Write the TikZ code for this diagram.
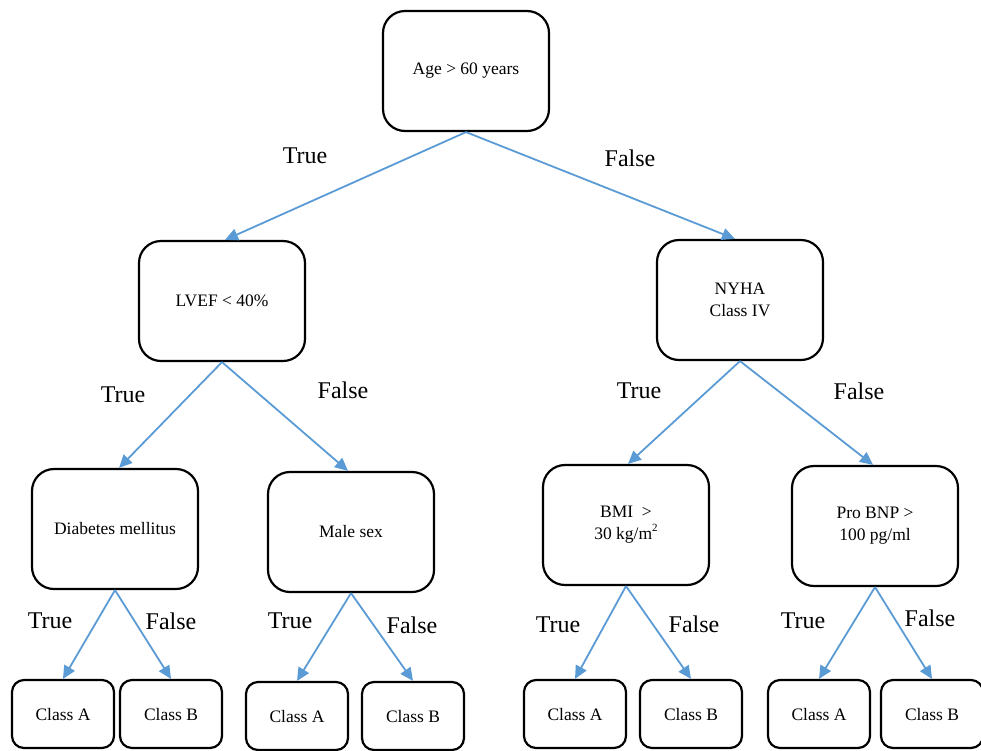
\documentclass[tikz,border=0pt]{standalone}
\usepackage{fontspec}
\setmainfont{Liberation Serif}
\usetikzlibrary{arrows.meta}
\definecolor{edgeblue}{RGB}{91,155,213}
\tikzset{
  box/.style={draw=black, line width=2.2pt, rounded corners=22pt, minimum width=166pt, minimum height=120pt, align=center, font=\fontsize{17.5}{22}\selectfont, inner sep=0pt},
  leaf/.style={draw=black, line width=2.2pt, rounded corners=12pt, minimum width=102pt, minimum height=68pt, align=center, font=\fontsize{17.5}{22}\selectfont, inner sep=0pt},
  conn/.style={draw=edgeblue, line width=1.8pt, -{Triangle[length=13pt,width=12pt]}},
  lbl/.style={font=\fontsize{24}{28}\selectfont, inner sep=0pt}
}
\begin{document}
\begin{tikzpicture}[x=1pt,y=-1pt]
\useasboundingbox (0,0) rectangle (981,750);
% internal nodes
\node[box] (age) at (466,71) {Age > 60 years};
\node[box] (lvef) at (222,301) {LVEF < 40\%};
\node[box] (nyha) at (740,300) {NYHA\\Class IV};
\node[box] (diab) at (115,529) {Diabetes mellitus};
\node[box] (male) at (351,532) {Male sex};
\node[box] (bmi) at (626,525) {BMI\ \ >\\30 kg/m\raisebox{8pt}{\fontsize{11}{11}\selectfont 2}};
\node[box] (bnp) at (875,526) {Pro BNP >\\100 pg/ml};
% leaves
\node[leaf] (a1) at (63,714) {Class A};
\node[leaf] (b1) at (171,714) {Class B};
\node[leaf] (a2) at (297,716) {Class A};
\node[leaf] (b2) at (413,716) {Class B};
\node[leaf] (a3) at (575,714) {Class A};
\node[leaf] (b3) at (691,714) {Class B};
\node[leaf] (a4) at (819,714) {Class A};
\node[leaf] (b4) at (932,714) {Class B};
% connectors
\draw[conn] (age.south) -- ([xshift=3pt]lvef.north);
\draw[conn] (age.south) -- ([xshift=-5pt]nyha.north);
\draw[conn] (lvef.south) -- ([xshift=4pt]diab.north);
\draw[conn] (lvef.south) -- ([xshift=-3pt]male.north);
\draw[conn] (nyha.south) -- ([xshift=2pt]bmi.north);
\draw[conn] (nyha.south) -- ([xshift=-2pt]bnp.north);
\draw[conn] (diab.south) -- (a1.north);
\draw[conn] (diab.south) -- (b1.north);
\draw[conn] (male.south) -- (a2.north);
\draw[conn] (male.south) -- (b2.north);
\draw[conn] (bmi.south) -- (a3.north);
\draw[conn] (bmi.south) -- (b3.north);
\draw[conn] (bnp.south) -- (a4.north);
\draw[conn] (bnp.south) -- (b4.north);
% labels
\node[lbl] (t0) at (305,156) {True};
\node[lbl] (f0) at (630,158) {False};
\node[lbl] (t1) at (123,395) {True};
\node[lbl] (f1) at (343,390) {False};
\node[lbl] (t2) at (639,391) {True};
\node[lbl] (f2) at (859,391) {False};
\node[lbl] (t3) at (50,621) {True};
\node[lbl] (f3) at (171,621) {False};
\node[lbl] (t4) at (290,621) {True};
\node[lbl] (f4) at (412,625) {False};
\node[lbl] (t5) at (558,625) {True};
\node[lbl] (f5) at (694,624) {False};
\node[lbl] (t6) at (803,621) {True};
\node[lbl] (f6) at (930,618) {False};
\end{tikzpicture}
\end{document}
